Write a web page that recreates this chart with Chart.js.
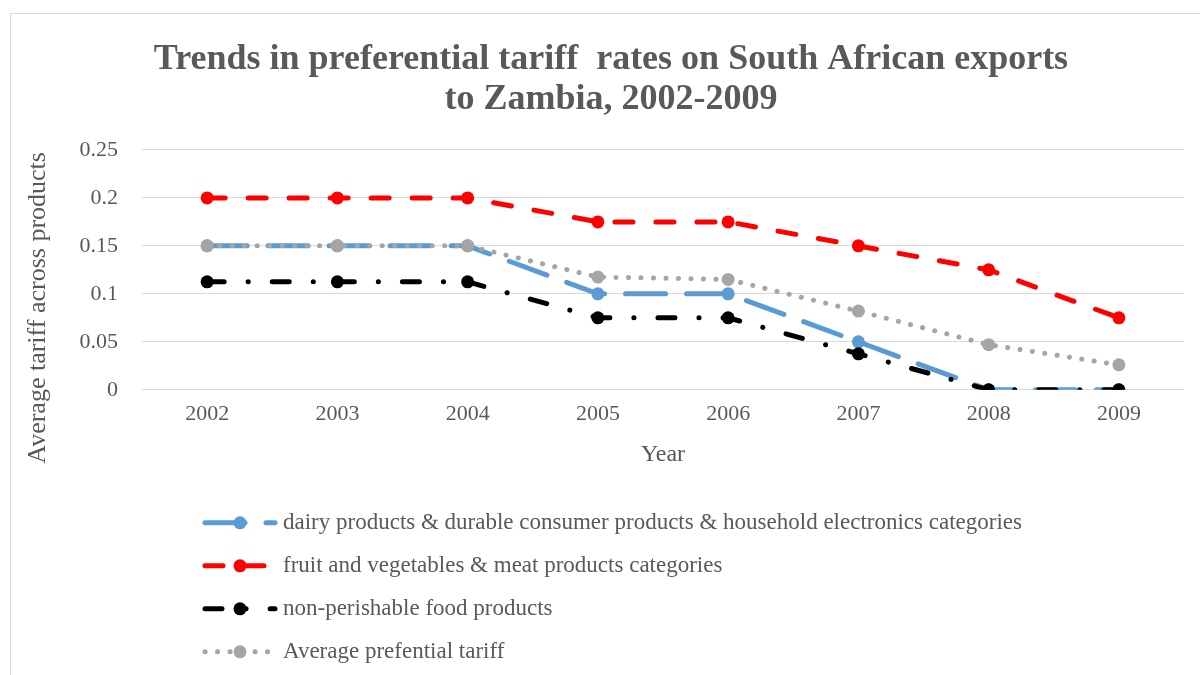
<!DOCTYPE html>
<html>
<head>
<meta charset="utf-8">
<script src="https://cdn.jsdelivr.net/npm/chart.js@4.4.1/dist/chart.umd.min.js"></script>
<style>
  html, body { margin: 0; padding: 0; background: #fff; }
  #wrap { position: relative; width: 1200px; height: 675px; }
</style>
</head>
<body>
<div id="wrap"><canvas id="tariffChart" width="1200" height="675"></canvas></div>
<script>
const years = ['2002', '2003', '2004', '2005', '2006', '2007', '2008', '2009'];
const dairyDurables = [0.15, 0.15, 0.15, 0.1, 0.1, 0.05, 0, 0];
const fruitVegMeat = [0.2, 0.2, 0.2, 0.175, 0.175, 0.15, 0.125, 0.075];
const nonPerishable = [0.1125, 0.1125, 0.1125, 0.075, 0.075, 0.0375, 0, 0];
const avgPreferential = [0.15, 0.15, 0.15, 0.1175, 0.115, 0.082, 0.047, 0.026];
const yTickLabels = ['0', '0.05', '0.1', '0.15', '0.2', '0.25'];
const seriesNames = [
  'dairy products & durable consumer products & household electronics categories',
  'fruit and vegetables & meat products categories',
  'non-perishable food products',
  'Average prefential tariff'
];
const yAxisTitle = 'Average tariff across products';

const serif = '"Liberation Serif", "DejaVu Serif", serif';
const textGrey = '#595959';

// white page with the thin outer frame
const framePlugin = {
  id: 'frame',
  beforeDraw(chart) {
    const ctx = chart.ctx;
    ctx.save();
    ctx.fillStyle = '#fff';
    ctx.fillRect(0, 0, chart.width, chart.height);
    ctx.strokeStyle = '#d9d9d9';
    ctx.lineWidth = 1;
    ctx.strokeRect(10.5, 13.5, 1200, 700);
    ctx.restore();
  }
};

// vertical axis title sits a little below the middle of the plot
const yTitlePlugin = {
  id: 'yTitle',
  afterDraw(chart) {
    const ctx = chart.ctx;
    const area = chart.chartArea;
    ctx.save();
    ctx.translate(38, (area.top + area.bottom) / 2 + 38);
    ctx.rotate(-Math.PI / 2);
    ctx.fillStyle = textGrey;
    ctx.font = '26px ' + serif;
    ctx.textAlign = 'center';
    ctx.textBaseline = 'middle';
    ctx.fillText(yAxisTitle, 0, 0);
    ctx.restore();
  }
};

// legend stacked in rows under the axis, line sample with a marker in the middle
const legendRows = {
  id: 'legendRows',
  afterDraw(chart) {
    const ctx = chart.ctx;
    const x0 = 205, x1 = 275, textX = 283;
    let y = chart.chartArea.bottom + 133;
    chart.data.datasets.forEach(ds => {
      ctx.save();
      ctx.strokeStyle = ds.borderColor;
      ctx.lineWidth = ds.borderWidth;
      ctx.lineCap = 'round';
      ctx.setLineDash(ds.borderDash);
      ctx.beginPath();
      ctx.moveTo(x0, y);
      ctx.lineTo(x1, y);
      ctx.stroke();
      ctx.setLineDash([]);
      ctx.fillStyle = ds.pointBackgroundColor;
      ctx.beginPath();
      ctx.arc(240, y, ds.pointRadius, 0, Math.PI * 2);
      ctx.fill();
      ctx.fillStyle = textGrey;
      ctx.font = '23px ' + serif;
      ctx.textBaseline = 'middle';
      ctx.fillText(ds.label, textX, y);
      ctx.restore();
      y += 43;
    });
  }
};

function series(label, data, color, dash, order) {
  return {
    label: label,
    data: data,
    borderColor: color,
    backgroundColor: color,
    pointBackgroundColor: color,
    pointBorderColor: color,
    pointBorderWidth: 0,
    pointRadius: 6.5,
    borderWidth: 5,
    borderDash: dash,
    borderCapStyle: 'round',
    tension: 0,
    fill: false,
    order: order
  };
}

new Chart(document.getElementById('tariffChart'), {
  type: 'line',
  data: {
    labels: years,
    datasets: [
      series(seriesNames[0], dairyDurables, '#5B9BD5', [40, 21], 3),
      series(seriesNames[1], fruitVegMeat, '#FF0000', [18, 23], 2),
      series(seriesNames[2], nonPerishable, '#000000', [17, 24, 0.1, 24], 1),
      series(seriesNames[3], avgPreferential, '#A5A5A5', [0.1, 12.4], 0)
    ]
  },
  options: {
    responsive: false,
    animation: false,
    layout: { padding: { top: 40, left: 38, right: 16, bottom: 202 } },
    plugins: {
      legend: { display: false },
      tooltip: { enabled: false },
      title: {
        display: true,
        text: ['Trends in preferential tariff  rates on South African exports', 'to Zambia, 2002-2009'],
        color: textGrey,
        font: { family: serif, size: 36, weight: 'bold', lineHeight: 1.11 },
        padding: { top: 0, bottom: 30 }
      }
    },
    scales: {
      x: {
        offset: true,
        grid: { display: false, drawTicks: false },
        border: { display: false },
        ticks: { color: textGrey, font: { family: serif, size: 22 }, padding: 11, maxRotation: 0 },
        title: { display: true, text: 'Year', color: textGrey, font: { family: serif, size: 24 }, padding: { top: 2, bottom: 4 } }
      },
      y: {
        min: 0,
        max: 0.25,
        ticks: {
          stepSize: 0.05,
          color: textGrey,
          font: { family: serif, size: 22 },
          padding: 24,
          callback: (v, i) => yTickLabels[i]
        },
        grid: { color: '#d9d9d9', lineWidth: 1, drawTicks: false },
        border: { display: false },
        afterFit(scale) { scale.width = 104; }
      }
    }
  },
  plugins: [framePlugin, yTitlePlugin, legendRows]
});
</script>
</body>
</html>
